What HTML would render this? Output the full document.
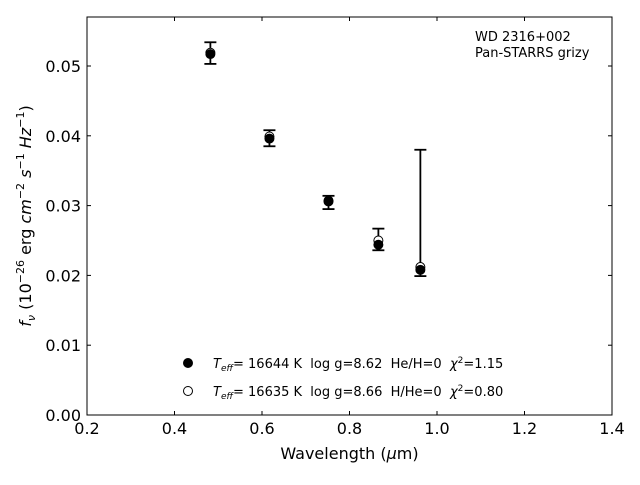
<!DOCTYPE html>
<html><head><meta charset="utf-8"><style>
body{margin:0;background:#fff;}
svg text{font-family:"DejaVu Sans","Liberation Sans",sans-serif;white-space:pre;}
</style></head><body>
<svg id="chart" width="640" height="480" xmlns="http://www.w3.org/2000/svg">
<rect x="87" y="17" width="525" height="398" fill="none" stroke="#000" stroke-width="1"/>
<g id="ticks"></g>
<g id="marks"></g>
<text x="349.5" y="459" font-size="16" text-anchor="middle">Wavelength (<tspan font-style="italic">μ</tspan>m)</text>
<text transform="translate(31,216) rotate(-90)" font-size="16" text-anchor="middle"><tspan font-style="italic">f</tspan><tspan font-style="italic" font-size="11" dy="4">ν</tspan><tspan dy="-4"> (10</tspan><tspan font-size="11" dy="-7">−26</tspan><tspan dy="7"> erg </tspan><tspan font-style="italic">cm</tspan><tspan font-size="11" dy="-7">−2</tspan><tspan dy="7"> </tspan><tspan font-style="italic">s</tspan><tspan font-size="11" dy="-7">−1</tspan><tspan dy="7"> </tspan><tspan font-style="italic">Hz</tspan><tspan font-size="11" dy="-7">−1</tspan><tspan dy="7">)</tspan></text>
<text x="475" y="41" font-size="13">WD 2316+002</text>
<text x="475" y="57" font-size="13">Pan-STARRS grizy</text>
<g>
<circle cx="188" cy="363" r="4.5" fill="#000" stroke="#000"/>
<text x="213" y="368" font-size="13"><tspan font-style="italic">T</tspan><tspan font-style="italic" font-size="9" dy="3">eff</tspan><tspan dy="-3">= 16644 K  log g=8.62  He/H=0  </tspan><tspan font-style="italic">χ</tspan><tspan font-size="9" dy="-5">2</tspan><tspan dy="5">=1.15</tspan></text>
<circle cx="188" cy="391" r="4.5" fill="#fff" stroke="#000"/>
<text x="213" y="396" font-size="13"><tspan font-style="italic">T</tspan><tspan font-style="italic" font-size="9" dy="3">eff</tspan><tspan dy="-3">= 16635 K  log g=8.66  H/He=0  </tspan><tspan font-style="italic">χ</tspan><tspan font-size="9" dy="-5">2</tspan><tspan dy="5">=0.80</tspan></text>
</g>
</svg>
<script>
const wavelengths=[0.482,0.617,0.752,0.866,0.962];
const observed=[0.0517,0.0396,0.0306,0.0244,0.0208];
const errLow=[0.0503,0.0385,0.0295,0.0236,0.0199];
const errHigh=[0.0534,0.0408,0.0314,0.0267,0.0380];
const modelHe=[0.0517,0.0396,0.0306,0.0244,0.0208];
const modelH=[0.0519,0.0399,0.0307,0.0250,0.0212];
const xTicks=[0.2,0.4,0.6,0.8,1.0,1.2,1.4];
const yTicks=[0.00,0.01,0.02,0.03,0.04,0.05];
const X0=87,X1=612,Y0=415,Y1=17;
const xs=v=>X0+(v-0.2)/1.2*(X1-X0);
const ys=v=>Y0-v*6980;
const NS="http://www.w3.org/2000/svg";
function mk(tag,attrs,parent){const e=document.createElementNS(NS,tag);for(const k in attrs)e.setAttribute(k,attrs[k]);parent.appendChild(e);return e;}
const tg=document.getElementById('ticks'),mg=document.getElementById('marks');
xTicks.forEach(t=>{const x=xs(t);
const l=mk('line',{x1:x,x2:x,y1:Y0,y2:Y0-4,stroke:'#000'},tg);


const l2=mk('line',{x1:x,x2:x,y1:Y1,y2:Y1+4,stroke:'#000'},tg);


const tx=mk('text',{x:x,y:Y0+19,'font-size':16,'text-anchor':'middle'},tg);tx.textContent=t.toFixed(1);

});
yTicks.forEach(t=>{const y=ys(t);
const l=mk('line',{x1:X0,x2:X0+4,y1:y,y2:y,stroke:'#000'},tg);


const l2=mk('line',{x1:X1,x2:X1-4,y1:y,y2:y,stroke:'#000'},tg);


const tx=mk('text',{x:X0-6,y:y+6,'font-size':16,'text-anchor':'end'},tg);tx.textContent=t.toFixed(2);

});
wavelengths.forEach((w,i)=>{const x=xs(w);
const g=mk('g',{},mg);


mk('line',{x1:x,x2:x,y1:ys(errLow[i]),y2:ys(errHigh[i]),stroke:'#000','stroke-width':1.8},g);
mk('line',{x1:x-6,x2:x+6,y1:ys(errLow[i]),y2:ys(errLow[i]),stroke:'#000','stroke-width':1.8},g);
mk('line',{x1:x-6,x2:x+6,y1:ys(errHigh[i]),y2:ys(errHigh[i]),stroke:'#000','stroke-width':1.8},g);
const o=mk('circle',{cx:x,cy:ys(observed[i]),r:4.5,fill:'#000'},mg);


const h=mk('circle',{cx:x,cy:ys(modelH[i]),r:4.5,fill:'#fff',stroke:'#000'},mg);


const he=mk('circle',{cx:x,cy:ys(modelHe[i]),r:4.5,fill:'#000',stroke:'#000'},mg);

});
</script>
</body></html>
